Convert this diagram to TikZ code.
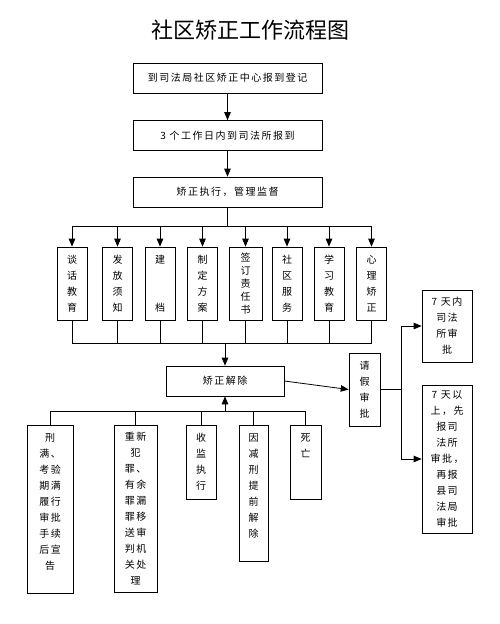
\documentclass[tikz,border=0pt]{standalone}
\usepackage{fontspec}
\setmainfont{Noto Sans CJK SC}[LetterSpace=15]
\newfontfamily\titlefont{Noto Sans CJK SC}
\usepackage{tikz}
\usetikzlibrary{arrows}

\tikzset{
  box/.style={draw, line width=0.8pt, rectangle, inner sep=0pt, align=center,
    font=\fontsize{10}{16}\selectfont},
  stepbox/.style={box, minimum width=189pt, minimum height=30pt},
  itembox/.style={box, minimum width=30pt, minimum height=73pt},
  link/.style={line width=0.8pt},
  arr/.style={line width=0.8pt, -triangle 45}
}

\begin{document}
\begin{tikzpicture}[x=1pt, y=-1pt]
\useasboundingbox (0,0) rectangle (500,624);
\node[font=\titlefont\fontsize{22}{22}\selectfont] (title) at (250,30)
  {社区矫正工作流程图};
\node[stepbox] (dj) at (227.5,78) {到司法局社区矫正中心报到登记};
\node[stepbox] (bd) at (227.5,135.5) {3 个工作日内到司法所报到};
\node[stepbox] (zx) at (227.5,192) {矫正执行，管理监督};
\draw[arr] (dj) -- (bd);
\draw[arr] (bd) -- (zx);
% supervision measures
\node[itembox] (t1) at (72,283.5) {谈\\话\\教\\育};
\node[itembox] (t2) at (117.5,283.5) {发\\放\\须\\知};
\node[itembox] (t3) at (160,283.5) {建\\[32pt]档};
\node[itembox] (t4) at (202.5,283.5) {制\\定\\方\\案};
\node[itembox, 
   minimum width=33pt, 
   font=\fontsize{10}{13}\selectfont] (t5) at (245.5,283.5) 
  {签\\订\\责\\任\\书};
\node[itembox] (t6) at (287,283.5) {社\\区\\服\\务};
\node[itembox] (t7) at (329,283.5) {学\\习\\教\\育};
\node[itembox] (t8) at (371.5,283.5) {心\\理\\矫\\正};
\coordinate (fen) at (227.5,226);
\draw[link] (zx.south) -- (fen);
\draw[arr] (fen) -| (t1.north);
\draw[arr] (fen) -| (t2.north);
\draw[arr] (fen) -| (t3.north);
\draw[arr] (fen) -| (t4.north);
\draw[arr] (fen) -| (t5.north);
\draw[arr] (fen) -| (t6.north);
\draw[arr] (fen) -| (t7.north);
\draw[arr] (fen) -| (t8.north);
% release and leave
\node[box, minimum width=118pt, minimum height=30pt] (jc) at (225,381) {矫正解除};
\coordinate (he) at (225,343);
\draw[link] (t1.south) |- (he);
\draw[link] (t2.south) |- (he);
\draw[link] (t3.south) |- (he);
\draw[link] (t4.south) |- (he);
\draw[link] (t5.south) |- (he);
\draw[link] (t6.south) |- (he);
\draw[link] (t7.south) |- (he);
\draw[link] (t8.south) |- (he);
\draw[arr] (he) -- (jc.north);
\node[box, minimum width=31pt, minimum height=73pt] (qj) at (364.5,389.5) 
  {请\\假\\审\\批};
\node[box, minimum width=50pt, minimum height=72pt] (r1) at (447,326) 
  {7 天内\\司法\\所审\\批};
\node[box, minimum width=50pt, minimum height=148pt] (r2) at (447,459) 
  {7 天以\\上，先\\报司\\法所\\审批，\\再报\\县司\\法局\\审批};
\coordinate (qf) at (401,389.5);
\draw[arr] (jc.east) -- (qj.west);
\draw[link] (qj.east) -- (qf);
\draw[arr] (qf) |- (r1.west);
\draw[arr] (qf) |- (r2.west);
% ways of release
\node[box, minimum width=46pt, minimum height=168pt] (b1) at (50,509) 
  {刑\\满、\\考验\\期满\\履行\\审批\\手续\\后宣\\告\\~};
\node[box, minimum width=43pt, minimum height=167pt] (b2) at (135.5,508.5) 
  {重新\\犯\\罪、\\有余\\罪漏\\罪移\\送审\\判机\\关处\\理};
\node[box, minimum width=30pt, minimum height=74pt] (b3) at (201,462) 
  {收\\监\\执\\行};
\node[box, minimum width=29pt, minimum height=136pt] (b4) at (253.5,493) 
  {因\\减\\刑\\提\\前\\解\\除\\~};
\node[box, minimum width=31pt, minimum height=74pt] (b5) at (305.5,462) 
  {死\\亡\\~\\~};
\coordinate (jh) at (225,411);
\draw[arr] (jh) -- (jc.south);
\draw[link] (b1.north) |- (jh);
\draw[link] (b2.north) |- (jh);
\draw[link] (b3.north) |- (jh);
\draw[link] (b4.north) |- (jh);
\draw[link] (b5.north) |- (jh);
\end{tikzpicture}
\end{document}
